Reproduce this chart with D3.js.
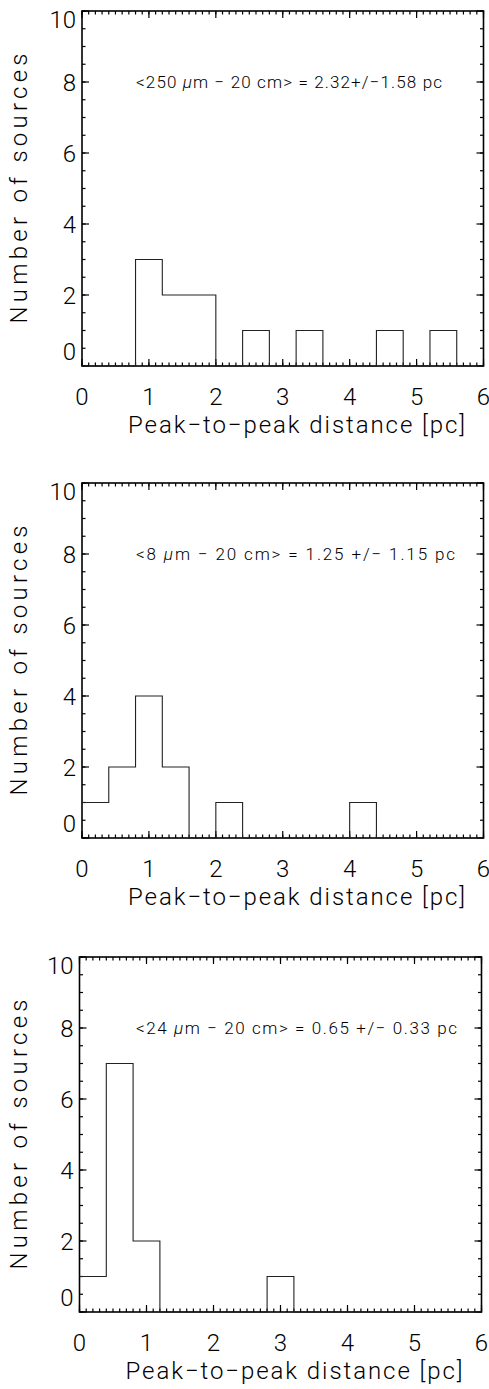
<!DOCTYPE html>
<html>
<head>
<meta charset="utf-8">
<script src="https://cdn.jsdelivr.net/npm/d3@7/dist/d3.min.js"></script>
<style>
  body { margin: 0; background: #fff; }
  text { font-family: Roboto, "Liberation Sans", Arial, sans-serif; font-weight: 300; fill: #000; }
</style>
</head>
<body>
<div id="chart-area"></div>
<script>
// histogram bins (pc) and counts per panel
const binStarts = [0, 0.4, 0.8, 1.2, 1.6, 2.0, 2.4, 2.8, 3.2, 3.6, 4.0, 4.4, 4.8, 5.2, 5.6];
const binWidth = 0.4;
const counts250um = [0, 0, 3, 2, 2, 0, 1, 0, 1, 0, 0, 1, 0, 1, 0];
const counts8um   = [1, 2, 4, 2, 0, 1, 0, 0, 0, 0, 1, 0, 0, 0, 0];
const counts24um  = [1, 7, 2, 0, 0, 0, 0, 1, 0, 0, 0, 0, 0, 0, 0];

// annotation text, split round the italic mu
const notes = [
    ["<250 ", "m \u2212 20 cm> = 2.32+/\u22121.58 pc"],
    ["<8 ", "m \u2212 20 cm> = 1.25 +/\u2212 1.15 pc"],
    ["<24 ", "m \u2212 20 cm> = 0.65 +/\u2212 0.33 pc"]
];

const xTicks = [0, 1, 2, 3, 4, 5, 6];
const yTicks = [0, 2, 4, 6, 8, 10];
const xTitle = "Peak-to-peak distance [pc]".replace(/-/g, "\u2212");
const yTitle = "Number of sources";

// panel frames
const panels = [
    {counts: counts250um, note: notes[0], top: 11,  left: 82,   right: 483.5, noteLen: 306},
    {counts: counts8um,   note: notes[1], top: 483, left: 82,   right: 483.5, noteLen: 319},
    {counts: counts24um,  note: notes[2], top: 957, left: 79.5, right: 481.5, noteLen: 321}
];
const plotH = 355;

let svg = d3.select("#chart-area").append("svg")
    .attr("width", 489)
    .attr("height", 1389);

panels.forEach(function (p) {
    const bottom = p.top + plotH;
    const x = d3.scaleLinear().domain([0, 6]).range([p.left, p.right]);
    const y = d3.scaleLinear().domain([0, 10]).range([bottom, p.top]);
    const g = svg.append("g");

    // inward ticks on all four sides
    const xMinor = x.ticks(60);
    const yMinor = y.ticks(20);
    const tickSets = [
        [xMinor, 3.5], [xTicks, 7]
    ];
    tickSets.forEach(function (t) {
        [[bottom, -1], [p.top, 1]].forEach(function (side) {
            g.selectAll(null)
                .data(t[0])
                .enter()
                .append("line")
                .attr("x1", d => x(d))
                .attr("x2", d => x(d))
                .attr("y1", side[0])
                .attr("y2", side[0] + side[1] * t[1])
                .attr("stroke", "#000")
                .attr("stroke-width", 1.2);
        });
    });
    [[yMinor, 3.5], [yTicks, 7]].forEach(function (t) {
        [[p.left, 1], [p.right, -1]].forEach(function (side) {
            g.selectAll(null)
                .data(t[0])
                .enter()
                .append("line")
                .attr("y1", d => y(d))
                .attr("y2", d => y(d))
                .attr("x1", side[0])
                .attr("x2", side[0] + side[1] * t[1])
                .attr("stroke", "#000")
                .attr("stroke-width", 1.2);
        });
    });

    // frame
    g.append("rect")
        .attr("x", p.left)
        .attr("y", p.top)
        .attr("width", p.right - p.left)
        .attr("height", plotH)
        .attr("fill", "none")
        .attr("stroke", "#000")
        .attr("stroke-width", 1.6);

    // histogram outline
    let pts = [];
    binStarts.forEach(function (b, i) {
        pts.push([b, p.counts[i]]);
        pts.push([b + binWidth, p.counts[i]]);
    });
    const line = d3.line()
        .x(d => x(d[0]))
        .y(d => y(d[1]));
    g.append("path")
        .attr("d", line(pts))
        .attr("fill", "none")
        .attr("stroke", "#222")
        .attr("stroke-width", 1.1);

    // x tick labels
    g.selectAll(".xl")
        .data(xTicks)
        .enter()
        .append("text")
        .attr("x", d => x(d))
        .attr("y", bottom + 39)
        .attr("text-anchor", "middle")
        .attr("font-size", 24)
        .text(d => d);

    // y tick labels (end labels kept inside the frame, as in the original)
    g.selectAll(".yl")
        .data(yTicks)
        .enter()
        .append("text")
        .attr("x", p.left - 6)
        .attr("y", function (d) {
            if (d === 10) return p.top + 17;
            if (d === 0) return bottom - 6;
            return y(d) + 8.6;
        })
        .attr("text-anchor", "end")
        .attr("font-size", 24)
        .text(d => d);

    // axis titles
    g.append("text")
        .attr("x", p.left + 46)
        .attr("y", bottom + 67)
        .attr("font-size", 24)
        .attr("textLength", 337)
        .attr("lengthAdjust", "spacing")
        .text(xTitle);

    g.append("text")
        .attr("transform", `translate(27,${(p.top + bottom) / 2}) rotate(-90)`)
        .attr("text-anchor", "middle")
        .attr("font-size", 24)
        .attr("textLength", 270)
        .attr("lengthAdjust", "spacing")
        .text(yTitle);

    // annotation
    let note = g.append("text")
        .attr("x", 136)
        .attr("y", y(8) + 6)
        .attr("font-size", 17)
        .attr("textLength", p.noteLen)
        .attr("lengthAdjust", "spacing");
    note.append("tspan").text(p.note[0]);
    note.append("tspan").attr("font-style", "italic").text("\u03bc");
    note.append("tspan").text(p.note[1]);
});
</script>
</body>
</html>
